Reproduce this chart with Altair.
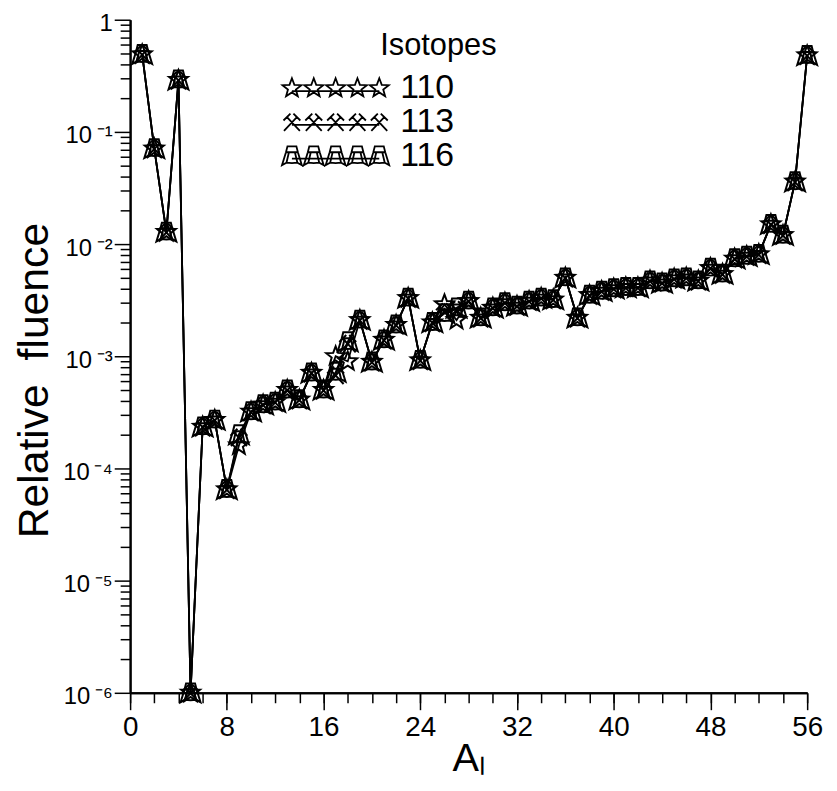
import math
import altair as alt
import pandas as pd

FONT = "Liberation Sans"

# ---- data ----
mass_number = list(range(1, 57))
fluence_116 = [0.49, 0.071, 0.0128, 0.29, 1.0e-6, 2.35e-4, 2.7e-4, 6.5e-5, 2.0e-4, 3.2e-4,
               3.7e-4, 3.9e-4, 5.0e-4, 4.1e-4, 7.1e-4, 5.0e-4, 7.2e-4, 1.35e-3, 2.1e-3, 8.9e-4,
               1.4e-3, 1.9e-3, 3.3e-3, 9.2e-4, 2.0e-3, 2.4e-3, 2.7e-3, 3.1e-3, 2.2e-3, 2.7e-3,
               3.0e-3, 2.8e-3, 3.1e-3, 3.3e-3, 3.2e-3, 5.0e-3, 2.2e-3, 3.5e-3, 3.8e-3, 4.0e-3,
               4.1e-3, 4.1e-3, 4.7e-3, 4.5e-3, 4.9e-3, 5.0e-3, 4.7e-3, 6.1e-3, 5.4e-3, 7.4e-3,
               7.8e-3, 8.1e-3, 1.5e-2, 1.2e-2, 3.6e-2, 0.48]
fluence_113 = [0.49, 0.071, 0.0128, 0.29, 1.0e-6, 2.35e-4, 2.7e-4, 6.5e-5, 1.9e-4, 3.2e-4,
               3.7e-4, 3.9e-4, 5.0e-4, 4.1e-4, 7.1e-4, 5.0e-4, 6.8e-4, 1.3e-3, 2.1e-3, 8.9e-4,
               1.4e-3, 1.9e-3, 3.3e-3, 9.2e-4, 2.0e-3, 2.5e-3, 2.6e-3, 3.1e-3, 2.2e-3, 2.7e-3,
               3.0e-3, 2.8e-3, 3.1e-3, 3.3e-3, 3.2e-3, 5.0e-3, 2.2e-3, 3.5e-3, 3.8e-3, 4.0e-3,
               4.1e-3, 4.1e-3, 4.7e-3, 4.5e-3, 4.9e-3, 5.0e-3, 4.7e-3, 6.1e-3, 5.4e-3, 7.4e-3,
               7.8e-3, 8.1e-3, 1.5e-2, 1.2e-2, 3.6e-2, 0.48]
fluence_110 = [0.49, 0.071, 0.0128, 0.29, 1.0e-6, 2.35e-4, 2.7e-4, 6.5e-5, 1.6e-4, 3.2e-4,
               3.7e-4, 3.9e-4, 5.0e-4, 4.1e-4, 7.1e-4, 5.0e-4, 1.0e-3, 9.0e-4, 2.1e-3, 8.9e-4,
               1.4e-3, 1.9e-3, 3.3e-3, 9.2e-4, 2.0e-3, 2.9e-3, 2.1e-3, 3.1e-3, 2.2e-3, 2.7e-3,
               3.0e-3, 2.8e-3, 3.1e-3, 3.3e-3, 3.2e-3, 5.0e-3, 2.2e-3, 3.5e-3, 3.8e-3, 4.0e-3,
               4.1e-3, 4.1e-3, 4.7e-3, 4.5e-3, 4.9e-3, 5.0e-3, 4.7e-3, 6.1e-3, 5.4e-3, 7.4e-3,
               7.8e-3, 8.1e-3, 1.5e-2, 1.2e-2, 3.6e-2, 0.48]
isotopes = ["110", "113", "116"]

x_major_ticks = [0, 8, 16, 24, 32, 40, 48, 56]
x_minor_ticks = list(range(0, 57, 2))
y_major_ticks = [1e-6, 1e-5, 1e-4, 1e-3, 1e-2, 1e-1, 1.0]
y_minor_ticks = [k * 10.0 ** e for e in range(-6, 0) for k in range(2, 10)]

rows = []
for iso, vals in zip(isotopes, [fluence_110, fluence_113, fluence_116]):
    for a, v in zip(mass_number, vals):
        rows.append({"A": a, "fluence": v, "isotope": iso})
df = pd.DataFrame(rows)


# ---- marker shapes (unit-sized SVG paths) ----
def star_path(dx=0.0):
    pts = []
    for k in range(10):
        r = 1.0 if k % 2 == 0 else 0.42
        ang = math.radians(-90 + 36 * k)
        pts.append((dx + r * math.cos(ang), r * math.sin(ang)))
    return "M" + " L".join(f"{x:.3f},{y:.3f}" for x, y in pts) + " Z"


def hammer_path(dx=0.0):
    segs = [((-0.8, 0.9), (0.5, -0.5)), ((0.8, 0.9), (-0.5, -0.5)),
            ((0.15, -0.85), (0.85, -0.15)), ((-0.85, -0.15), (-0.15, -0.85))]
    return " ".join(f"M{a[0]+dx:.3f},{a[1]:.3f} L{b[0]+dx:.3f},{b[1]:.3f}" for a, b in segs)


def tower_path(dx=0.0):
    outer = [(-0.45, -0.95), (0.45, -0.95), (0.6, -0.35), (1.0, 0.95), (0.55, 0.7),
             (0.0, 0.75), (-0.55, 0.7), (-1.0, 0.95), (-0.6, -0.35)]
    p = "M" + " L".join(f"{x+dx:.3f},{y:.3f}" for x, y in outer) + " Z"
    p += f" M{-0.6+dx:.3f},-0.35 L{0.6+dx:.3f},-0.35"
    p += f" M{-0.3+dx:.3f},-0.35 L{-0.55+dx:.3f},0.7 M{0.3+dx:.3f},-0.35 L{0.55+dx:.3f},0.7"
    return p


marker_paths = [star_path(), hammer_path(), tower_path()]
offsets = [-4.4, -2.2, 0.0, 2.2, 4.4]


def legend_path(fn):
    return " ".join(fn(o) for o in offsets) + " M-4.4,0.3 L4.4,0.3"


legend_paths = [legend_path(star_path), legend_path(hammer_path), legend_path(tower_path)]

# ---- scales & axes ----
x_scale = alt.Scale(domain=[0, 56], nice=False, zero=False)
y_scale = alt.Scale(type="log", domain=[1e-6, 1], nice=False)

common = dict(domainColor="black", domainWidth=2, tickColor="black", tickWidth=1.5,
              labelColor="black", labelFont=FONT, titleFont=FONT, titleColor="black",
              grid=False, ticks=True)

x_minor = alt.Axis(orient="bottom", values=x_minor_ticks, tickSize=10, labels=False,
                   title=None, **common)
y_minor = alt.Axis(orient="left", values=y_minor_ticks, tickSize=10, labels=False,
                   title=None, **common)

x_major = alt.Axis(orient="bottom", values=x_major_ticks, tickSize=17, labelFontSize=28,
                   labelPadding=4, labelFlush=False, title="Aₗ", titleFontSize=40,
                   titleFontWeight="normal", titleY=78, titleBaseline="alphabetic",
                   **common)
y_label_expr = ("datum.value >= 1 ? '1\u00a0\u00a0\u00a0' : '10\u2009' + "
                "['⁻¹','⁻²','⁻³','⁻⁴','⁻⁵','⁻⁶'][round(-log(datum.value)/LN10) - 1]")
y_major = alt.Axis(orient="left", values=y_major_ticks, tickSize=16, labelFontSize=24,
                   labelPadding=2, labelExpr=y_label_expr, labelFlush=False,
                   labelBaseline="middle", labelOffset=4,
                   title="Relative\u00a0\u00a0fluence", titleFontSize=43,
                   titleFontWeight="normal", titleAngle=270, titleX=-96, titleY=363,
                   titleAlign="center", titleBaseline="middle", **common)

base = alt.Chart(df)

lines = base.mark_line(color="black", strokeWidth=1.8).encode(
    x=alt.X("A:Q", scale=x_scale, axis=x_minor),
    y=alt.Y("fluence:Q", scale=y_scale, axis=y_minor),
    detail="isotope:N",
)

points = base.mark_point(filled=False, color="black", size=400, strokeWidth=2,
                         opacity=1).encode(
    x=alt.X("A:Q", scale=x_scale, axis=x_major),
    y=alt.Y("fluence:Q", scale=y_scale, axis=y_major),
    shape=alt.Shape("isotope:N", scale=alt.Scale(domain=isotopes, range=marker_paths),
                    legend=None),
)

legend_layer = base.transform_filter("datum.A < 0").mark_point(
    filled=False, color="black", size=400, strokeWidth=1.8, opacity=1).encode(
    x=alt.X("A:Q", scale=x_scale, axis=None),
    y=alt.Y("fluence:Q", scale=y_scale, axis=None),
    shape=alt.Shape("isotope:N", scale=alt.Scale(domain=isotopes, range=legend_paths),
                    legend=alt.Legend(
                        title=None, orient="none", legendX=190, legendY=52,
                        padding=0, labelFont=FONT, labelFontSize=34,
                        labelColor="black", labelOffset=48, symbolSize=400,
                        symbolStrokeColor="black", symbolStrokeWidth=1.8,
                        symbolOpacity=1, symbolFillColor="transparent", rowPadding=0)),
)

chart = (
    alt.layer(lines, points, legend_layer)
    .resolve_scale(x="shared", y="shared", shape="independent")
    .resolve_axis(x="independent", y="independent")
    .properties(width=682, height=678,
                padding={"left": 123, "top": 9, "right": 22, "bottom": 84},
                autosize=alt.AutoSizeParams(type="none"),
                title=alt.TitleParams(text="Isotopes", anchor="start", frame="group",
                                      orient="top", dx=252, dy=75, offset=0,
                                      fontSize=31, fontWeight="normal", font=FONT,
                                      color="black", baseline="alphabetic"))
    .configure_view(stroke=None)
)

chart.save("out.html", embed_options={"renderer": "svg", "actions": False})
